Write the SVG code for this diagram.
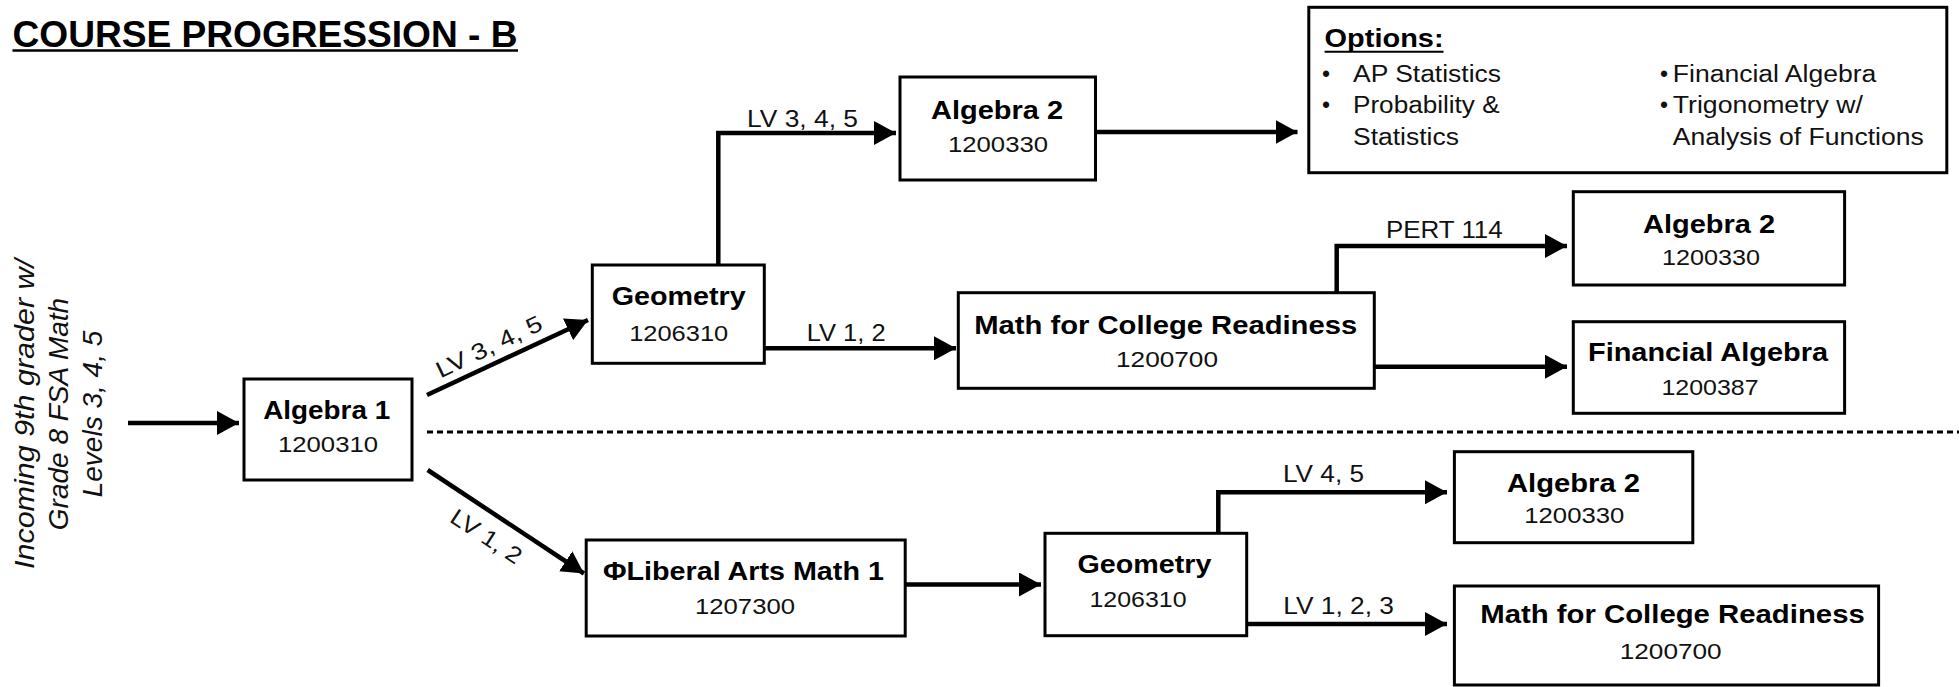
<svg xmlns="http://www.w3.org/2000/svg" width="1959" height="687" viewBox="0 0 1959 687">
<defs>
<marker id="ah" markerUnits="userSpaceOnUse" markerWidth="22" markerHeight="24" refX="22" refY="12" orient="auto">
<path d="M0,0 L22,12 L0,24 z" fill="#000"/>
</marker>
<style>
.box{fill:#fff;stroke:#000;stroke-width:3}
.t{font-family:"Liberation Sans",Arial,sans-serif;font-weight:bold;font-size:26px;text-anchor:middle;fill:#000}
.n{font-family:"Liberation Sans",Arial,sans-serif;font-size:22.5px;text-anchor:middle;fill:#111}
.lbl{font-family:"Liberation Sans",Arial,sans-serif;font-size:23px;fill:#111}
.c{fill:none;stroke:#000;stroke-width:4.5;marker-end:url(#ah)}
.opt{font-family:"Liberation Sans",Arial,sans-serif;font-size:23px;fill:#111}
.inc{font-family:"Liberation Sans",Arial,sans-serif;font-style:italic;font-size:28px;text-anchor:middle;fill:#111}
</style>
</defs>
<rect width="1959" height="687" fill="#fff"/>

<g id="title">
<text x="12.5" y="47" font-family="Liberation Sans, Arial, sans-serif" font-weight="bold" font-size="37" textLength="505" lengthAdjust="spacingAndGlyphs">COURSE PROGRESSION - B</text>
<line x1="12.5" y1="50.5" x2="518" y2="50.5" stroke="#000" stroke-width="2.5"/>
</g>

<line id="divider" x1="427" y1="432" x2="1959" y2="432" stroke="#000" stroke-width="3" stroke-dasharray="6 4"/>

<g id="connectors">
<path class="c" d="M128,423 H239"/>
<path class="c" d="M427,395 L588,320"/>
<path class="c" d="M427.7,470 L584,573.5"/>
<path class="c" d="M718.3,265 V133 H896"/>
<path class="c" d="M1095.5,132 H1297.5"/>
<path class="c" d="M764.3,348.3 H956"/>
<path class="c" d="M1336.7,292.7 V246 H1567"/>
<path class="c" d="M1374.3,366.7 H1567"/>
<path class="c" d="M905,584.5 H1041"/>
<path class="c" d="M1218.3,533.3 V492.3 H1447"/>
<path class="c" d="M1246.7,624 H1447"/>
<text class="lbl" transform="translate(492.4,353.7) rotate(-25.5)" text-anchor="middle" textLength="115" lengthAdjust="spacingAndGlyphs">LV 3, 4, 5</text>
<text class="lbl" transform="translate(482,543) rotate(33.4)" text-anchor="middle" textLength="80" lengthAdjust="spacingAndGlyphs">LV 1, 2</text>
<text class="lbl" x="747" y="126.7" textLength="111" lengthAdjust="spacingAndGlyphs">LV 3, 4, 5</text>
<text class="lbl" x="806.7" y="340.7" textLength="79" lengthAdjust="spacingAndGlyphs">LV 1, 2</text>
<text class="lbl" x="1386" y="237.7" textLength="116.7" lengthAdjust="spacingAndGlyphs">PERT 114</text>
<text class="lbl" x="1283" y="481.7" textLength="81" lengthAdjust="spacingAndGlyphs">LV 4, 5</text>
<text class="lbl" x="1283.3" y="614.3" textLength="110.7" lengthAdjust="spacingAndGlyphs">LV 1, 2, 3</text>
</g>

<g id="incoming">
<text class="inc" transform="translate(34,414) rotate(-90)" textLength="310" lengthAdjust="spacingAndGlyphs">Incoming 9th grader w/</text>
<text class="inc" transform="translate(68,414) rotate(-90)">Grade 8 FSA Math</text>
<text class="inc" transform="translate(102,414) rotate(-90)">Levels 3, 4, 5</text>
</g>

<g id="algebra1">
<rect class="box" x="244" y="379" width="168" height="101"/>
<text class="t" x="326.7" y="419.3" textLength="127" lengthAdjust="spacingAndGlyphs">Algebra 1</text>
<text class="n" x="328" y="452.3" textLength="100" lengthAdjust="spacingAndGlyphs">1200310</text>
</g>

<g id="geometry1">
<rect class="box" x="592.3" y="265" width="172" height="98.3"/>
<text class="t" x="678.7" y="305" textLength="134" lengthAdjust="spacingAndGlyphs">Geometry</text>
<text class="n" x="678.7" y="340.7" textLength="99" lengthAdjust="spacingAndGlyphs">1206310</text>
</g>

<g id="algebra2-top">
<rect class="box" x="900" y="77" width="195.5" height="103"/>
<text class="t" x="997" y="119" textLength="132" lengthAdjust="spacingAndGlyphs">Algebra 2</text>
<text class="n" x="998" y="151.7" textLength="100" lengthAdjust="spacingAndGlyphs">1200330</text>
</g>

<g id="options">
<rect class="box" x="1308.8" y="7.3" width="638" height="165.4"/>
<text x="1324.6" y="46.7" font-family="Liberation Sans, Arial, sans-serif" font-weight="bold" font-size="26" textLength="119" lengthAdjust="spacingAndGlyphs">Options:</text>
<line x1="1324.6" y1="51.7" x2="1443.5" y2="51.7" stroke="#000" stroke-width="2"/>
<text class="opt" x="1322" y="81.7">•</text>
<text class="opt" x="1322" y="113">•</text>
<text class="opt" x="1660" y="81.7">•</text>
<text class="opt" x="1660" y="113">•</text>
<text class="opt" x="1353" y="81.7" textLength="148" lengthAdjust="spacingAndGlyphs">AP Statistics</text>
<text class="opt" x="1353" y="113" textLength="146.6" lengthAdjust="spacingAndGlyphs">Probability &amp;</text>
<text class="opt" x="1353" y="145" textLength="106" lengthAdjust="spacingAndGlyphs">Statistics</text>
<text class="opt" x="1672.8" y="81.7" textLength="203.5" lengthAdjust="spacingAndGlyphs">Financial Algebra</text>
<text class="opt" x="1672.8" y="113" textLength="190" lengthAdjust="spacingAndGlyphs">Trigonometry w/</text>
<text class="opt" x="1672.8" y="145" textLength="251" lengthAdjust="spacingAndGlyphs">Analysis of Functions</text>
</g>

<g id="mcr-top">
<rect class="box" x="958.3" y="292.7" width="416" height="95.6"/>
<text class="t" x="1165.7" y="334" textLength="383" lengthAdjust="spacingAndGlyphs">Math for College Readiness</text>
<text class="n" x="1167" y="366.7" textLength="102" lengthAdjust="spacingAndGlyphs">1200700</text>
</g>

<g id="algebra2-right">
<rect class="box" x="1573.3" y="191.7" width="271.3" height="93.3"/>
<text class="t" x="1709" y="233.3" textLength="132" lengthAdjust="spacingAndGlyphs">Algebra 2</text>
<text class="n" x="1711" y="265" textLength="98" lengthAdjust="spacingAndGlyphs">1200330</text>
</g>

<g id="financial-algebra">
<rect class="box" x="1573.3" y="321.7" width="271.3" height="91.6"/>
<text class="t" x="1708" y="361" textLength="240" lengthAdjust="spacingAndGlyphs">Financial Algebra</text>
<text class="n" x="1710" y="395" textLength="97" lengthAdjust="spacingAndGlyphs">1200387</text>
</g>

<g id="liberal-arts">
<rect class="box" x="586.2" y="540" width="319" height="96"/>
<text class="t" x="743.4" y="580" textLength="281" lengthAdjust="spacingAndGlyphs">ΦLiberal Arts Math 1</text>
<text class="n" x="745" y="614" textLength="100" lengthAdjust="spacingAndGlyphs">1207300</text>
</g>

<g id="geometry2">
<rect class="box" x="1045" y="533.3" width="201.7" height="102.4"/>
<text class="t" x="1144.5" y="573.3" textLength="134" lengthAdjust="spacingAndGlyphs">Geometry</text>
<text class="n" x="1138" y="606.7" textLength="97" lengthAdjust="spacingAndGlyphs">1206310</text>
</g>

<g id="algebra2-bottom">
<rect class="box" x="1454.4" y="451.7" width="238.4" height="91"/>
<text class="t" x="1573.5" y="491.7" textLength="133" lengthAdjust="spacingAndGlyphs">Algebra 2</text>
<text class="n" x="1574.3" y="523.3" textLength="100" lengthAdjust="spacingAndGlyphs">1200330</text>
</g>

<g id="mcr-bottom">
<rect class="box" x="1454.4" y="586" width="424.2" height="99"/>
<text class="t" x="1672.5" y="623.3" textLength="384.5" lengthAdjust="spacingAndGlyphs">Math for College Readiness</text>
<text class="n" x="1670.7" y="659.3" textLength="102" lengthAdjust="spacingAndGlyphs">1200700</text>
</g>
</svg>
